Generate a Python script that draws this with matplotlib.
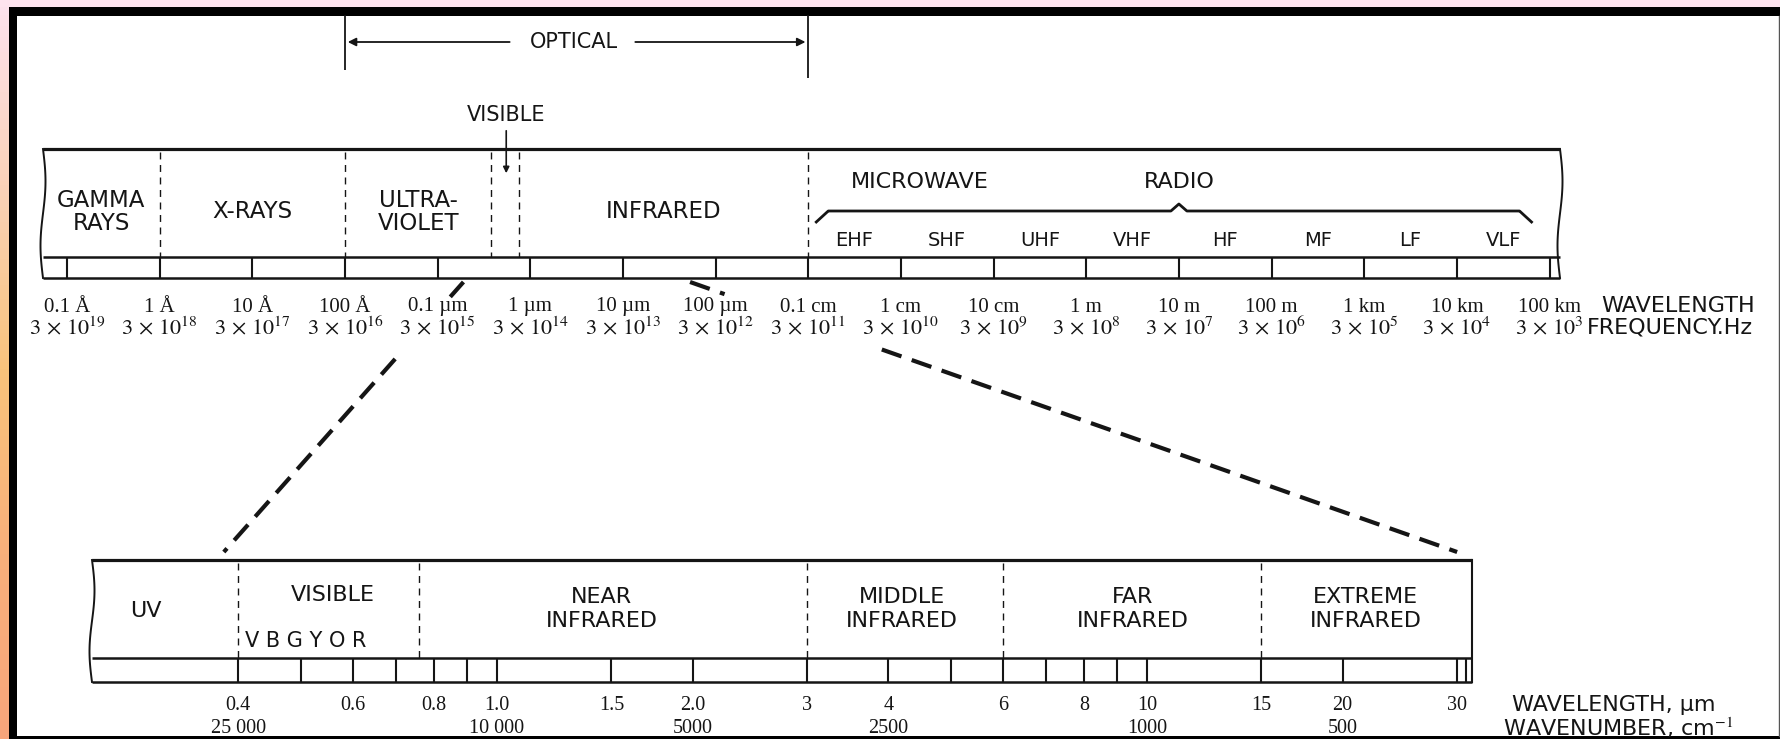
import numpy as np
import matplotlib
matplotlib.use("Agg")
import matplotlib.pyplot as plt
from matplotlib.colors import LinearSegmentedColormap

W, H = 1781, 739
INK = "#151515"
SANS = ["DejaVu Sans"]
SERIF = ["Liberation Serif", "DejaVu Serif"]
plt.rcParams["mathtext.fontset"] = "stix"

# ---------- upper spectrum, wavelength in metres ----------
wl_ticks = [1e-11, 1e-10, 1e-9, 1e-8, 1e-7, 1e-6, 1e-5, 1e-4, 1e-3,
            1e-2, 1e-1, 1e0, 1e1, 1e2, 1e3, 1e4, 1e5]
wl_labels = ["0.1 Å", "1 Å", "10 Å", "100 Å", "0.1 µm", "1 µm", "10 µm", "100 µm",
             "0.1 cm", "1 cm", "10 cm", "1 m", "10 m", "100 m", "1 km", "10 km", "100 km"]
freq_labels = [r"$3\,\times\,10^{19}$", r"$3\,\times\,10^{18}$", r"$3\,\times\,10^{17}$",
               r"$3\,\times\,10^{16}$", r"$3\,\times\,10^{15}$", r"$3\,\times\,10^{14}$",
               r"$3\,\times\,10^{13}$", r"$3\,\times\,10^{12}$", r"$3\,\times\,10^{11}$",
               r"$3\,\times\,10^{10}$", r"$3\,\times\,10^{9}$", r"$3\,\times\,10^{8}$",
               r"$3\,\times\,10^{7}$", r"$3\,\times\,10^{6}$", r"$3\,\times\,10^{5}$",
               r"$3\,\times\,10^{4}$", r"$3\,\times\,10^{3}$"]
top_lim = (10 ** -11.259, 10 ** 5.113)
top_edges = [1e-10, 1e-8, 3.8e-7, 7.5e-7, 1e-3]
top_names = ["GAMMA\nRAYS", "X-RAYS", "ULTRA-\nVIOLET", "INFRARED"]
top_name_spans = [(top_lim[0], 1e-10), (1e-10, 1e-8), (1e-8, 3.8e-7), (7.5e-7, 1e-3)]
visible_mark = 5.5e-7
optical_span = (1e-8, 1e-3)
radio_bands = ["EHF", "SHF", "UHF", "VHF", "HF", "MF", "LF", "VLF"]
radio_edges = [1e-3, 1e-2, 1e-1, 1e0, 1e1, 1e2, 1e3, 1e4, 1e5]

# ---------- lower (infrared) spectrum, wavelength in micrometres ----------
lo_lim = (10 ** -0.623, 10 ** 1.5)
lo_ticks = [0.4, 0.5, 0.6, 0.7, 0.8, 0.9, 1.0, 1.5, 2.0, 3, 4, 5, 6, 7, 8, 9, 10, 15, 20, 30]
lo_wl_pos = [0.4, 0.6, 0.8, 1.0, 1.5, 2.0, 3, 4, 6, 8, 10, 15, 20, 30]
lo_wl_labels = ["0.4", "0.6", "0.8", "1.0", "1.5", "2.0", "3", "4", "6", "8", "10", "15", "20", "30"]
wn_pos = [0.4, 1.0, 2.0, 4, 10, 20]
wn_labels = ["25 000", "10 000", "5000", "2500", "1000", "500"]
lo_edges = [0.4, 0.76, 3, 6, 15]
lo_names = ["UV", "VISIBLE", "NEAR\nINFRARED", "MIDDLE\nINFRARED", "FAR\nINFRARED", "EXTREME\nINFRARED"]
lo_name_pos = [0.288, 0.56, 1.45, 4.2, 9.5, 21.7]

# connectors: (upper wavelength m, lower wavelength µm)
link_left = (1.9e-7, 0.38)
link_right = (5.3e-5, 30)

fig = plt.figure(figsize=(W / 100, H / 100), dpi=100)
base = fig.add_axes([0, 0, 1, 1])
base.set_xlim(0, W)
base.set_ylim(H, 0)
base.axis("off")

# frame
grad = LinearSegmentedColormap.from_list("g", ["#fde2ee", "#fbd2b8", "#f9c37c", "#f8b07b", "#f7a57b"])
base.imshow(np.linspace(0, 1, 200)[:, None], cmap=grad, aspect="auto", extent=[0, 9, H, 0], zorder=0)
base.fill_between([0, W], 0, 7, color="#fde3ee", lw=0, zorder=0)
base.fill_between([9, 17], 7, H, color="black", lw=0, zorder=1)
base.fill_between([9, W], 7, 16, color="black", lw=0, zorder=1)
base.fill_between([9, W], 736, H, color="black", lw=0, zorder=1)
base.plot([1779.5, 1779.5], [16, 736], color="#555", lw=1, zorder=1)


def bar_axes(x0, x1, y0, y1, lim):
    ax = fig.add_axes([x0 / W, 1 - y1 / H, (x1 - x0) / W, (y1 - y0) / H])
    ax.set_xscale("log")
    ax.set_xlim(*lim)
    ax.set_ylim(y1, y0)
    ax.axis("off")
    ax.patch.set_alpha(0)
    return ax


def to_base(ax, x, y):
    return base.transData.inverted().transform(ax.transData.transform((x, y)))


def gmean(a, b):
    return np.sqrt(a * b)


def wavy(x, y0, y1):
    t = np.linspace(0, 1, 60)
    base.plot(x + 2.5 * np.sin(2 * np.pi * t), y0 + (y1 - y0) * t, color=INK, lw=1.4, zorder=3)


# ================= upper bar =================
ax1 = bar_axes(43, 1560, 149, 278, top_lim)
ax1.hlines(149, *top_lim, color=INK, lw=2.3, clip_on=False)
ax1.hlines([257, 278], *top_lim, color=INK, lw=1.8, clip_on=False)
ax1.vlines(wl_ticks, 257, 278, color=INK, lw=1.5, clip_on=False)
ax1.vlines(top_edges, 152, 257, color=INK, lw=1.0, linestyles=(0, (5, 4)), clip_on=False)
wavy(43, 149, 278)
wavy(1560, 149, 278)

for name, (a, b) in zip(top_names, top_name_spans):
    ax1.text(gmean(a, b), 212, name, ha="center", va="center", fontsize=16.5,
             family=SANS, color=INK, linespacing=1.0)

for i, name in enumerate(radio_bands):
    ax1.text(gmean(radio_edges[i], radio_edges[i + 1]), 241, name, ha="center", va="center",
             fontsize=14, family=SANS, color=INK)
ax1.text(10 ** -1.8, 182, "MICROWAVE", ha="center", va="center", fontsize=16,
         family=SANS, color=INK)
ax1.text(10, 182, "RADIO", ha="center", va="center", fontsize=16, family=SANS, color=INK)

# brace over microwave + radio
bx0, by = to_base(ax1, radio_edges[0], 211)
bx1, _ = to_base(ax1, radio_edges[-1], 211)
bxm, _ = to_base(ax1, 10, 211)
bx0 += 8
bx1 -= 18
s = np.linspace(0, 1, 12)
brace_x = np.concatenate([bx0 + 12 * np.sin(s * np.pi / 2), [bxm - 8, bxm, bxm + 8],
                          bx1 - 12 * np.cos(s * np.pi / 2)])
brace_y = np.concatenate([by + 11 - 11 * np.sin(s * np.pi / 2), [by, by - 7, by],
                          by + 11 * (1 - np.cos(s * np.pi / 2))])
base.plot(brace_x, brace_y, color=INK, lw=2.0, zorder=3)

# wavelength / frequency rows
for x, lab in zip(wl_ticks, wl_labels):
    ax1.text(x, 307, lab, ha="center", va="center", fontsize=15, family=SERIF, color=INK)
for x, lab in zip(wl_ticks, freq_labels):
    ax1.text(x, 327, lab, ha="center", va="center", fontsize=16, color=INK)
ax1.text(10 ** 5.555, 306, "WAVELENGTH", ha="left", va="center", fontsize=16, family=SANS, color=INK)
ax1.text(10 ** 5.40, 327, "FREQUENCY.Hz", ha="left", va="center", fontsize=16, family=SANS, color=INK)

# optical bracket and visible arrow
opt_mid = 10 ** -5.53
ax1.vlines(optical_span[0], 15, 70, color=INK, lw=1.3, clip_on=False)
ax1.vlines(optical_span[1], 15, 78, color=INK, lw=1.3, clip_on=False)
ax1.text(opt_mid, 42, "OPTICAL", ha="center", va="center", fontsize=15, family=SANS, color=INK)
ax1.annotate("", xy=(optical_span[0], 42), xytext=(opt_mid / 4.6, 42),
             arrowprops=dict(arrowstyle="-|>", color=INK, lw=1.3, mutation_scale=12),
             annotation_clip=False)
ax1.annotate("", xy=(optical_span[1], 42), xytext=(opt_mid * 4.3, 42),
             arrowprops=dict(arrowstyle="-|>", color=INK, lw=1.3, mutation_scale=12),
             annotation_clip=False)
ax1.text(visible_mark, 115, "VISIBLE", ha="center", va="center", fontsize=15, family=SANS, color=INK)
ax1.annotate("", xy=(visible_mark, 176), xytext=(visible_mark, 128),
             arrowprops=dict(arrowstyle="-|>", color=INK, lw=1.2, mutation_scale=9),
             annotation_clip=False)

# ================= lower bar =================
ax2 = bar_axes(92, 1472, 560, 682, lo_lim)
ax2.hlines(560, *lo_lim, color=INK, lw=2.3, clip_on=False)
ax2.hlines([658, 682], *lo_lim, color=INK, lw=1.8, clip_on=False)
ax2.vlines(lo_ticks, 658, 682, color=INK, lw=1.5, clip_on=False)
ax2.vlines(lo_lim[1] * 0.98, 658, 682, color=INK, lw=1.5, clip_on=False)
ax2.vlines(lo_edges, 563, 658, color=INK, lw=1.0, linestyles=(0, (5, 4)), clip_on=False)
wavy(92, 560, 682)
base.plot([1472, 1472], [560, 682], color=INK, lw=1.5, zorder=3)

for name, x in zip(lo_names, lo_name_pos):
    yy = 611 if name == "UV" else (595 if name == "VISIBLE" else 609)
    ax2.text(x, yy, name, ha="center", va="center", fontsize=16,
             family=SANS, color=INK, linespacing=1.3)
ax2.text(0.41, 641, "V B G Y O R", ha="left", va="center", fontsize=15, family=SANS, color=INK)

for x, lab in zip(lo_wl_pos, lo_wl_labels):
    ax2.text(x, 706, lab, ha="center", va="center", fontsize=14.5, family=SERIF, color=INK)
for x, lab in zip(wn_pos, wn_labels):
    ax2.text(x, 729, lab, ha="center", va="center", fontsize=14.5, family=SERIF, color=INK)
ax2.text(10 ** 1.5615, 705, "WAVELENGTH, µm", ha="left", va="center", fontsize=16, family=SANS, color=INK)
ax2.text(10 ** 1.548, 728, r"WAVENUMBER, cm$^{-1}$", ha="left", va="center", fontsize=16,
         family=SANS, color=INK)

# ================= dashed connectors =================
for (top_wl, lo_wl), cut in [(link_left, (0.055, 0.285)), (link_right, (0.045, 0.25))]:
    p0 = to_base(ax1, top_wl, 282)
    p1 = to_base(ax2, lo_wl, 552)
    for t0, t1 in [(0, cut[0]), (cut[1], 1)]:
        q0 = p0 + (p1 - p0) * t0
        q1 = p0 + (p1 - p0) * t1
        base.plot([q0[0], q1[0]], [q0[1], q1[1]], color=INK, lw=3, dashes=(5, 2.6), zorder=3)

fig.savefig("out.png", dpi=100, facecolor="white")
